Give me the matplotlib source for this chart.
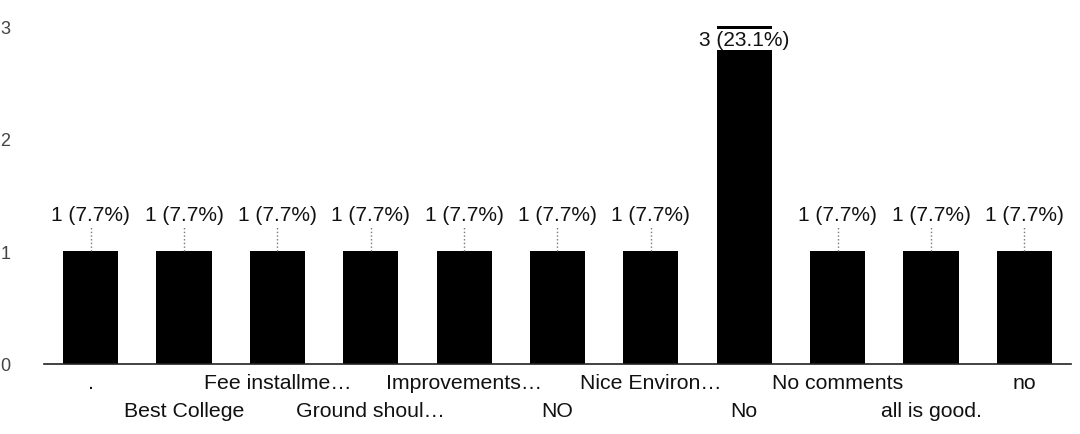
import matplotlib
matplotlib.use("Agg")
import matplotlib.pyplot as plt

categories = [".", "Best College", "Fee installme…", "Ground shoul…", "Improvements…",
              "NO", "Nice Environ…", "No", "No comments", "all is good.", "no"]
counts = [1, 1, 1, 1, 1, 1, 1, 3, 1, 1, 1]
percents = [7.7, 7.7, 7.7, 7.7, 7.7, 7.7, 7.7, 23.1, 7.7, 7.7, 7.7]
yticks = [0, 1, 2, 3]

plt.rcParams['font.family'] = ['Liberation Sans', 'DejaVu Sans']

fig = plt.figure(figsize=(10.8, 4.35), dpi=100)
ax = fig.add_axes([0.0407, 0.161, 0.951, 0.828])

x = list(range(len(categories)))
ax.bar(x, counts, width=0.59, color="black", zorder=2)

ax.set_xlim(-0.5, len(categories) - 0.5)
ax.set_ylim(0, 3.2)
ax.set_yticks(yticks)
ax.set_yticklabels([str(t) for t in yticks], fontsize=13, color="#444444")
ax.tick_params(axis='y', length=0, pad=24)
ax.tick_params(axis='x', length=0)
ax.set_xticks([])

for s in ["top", "right", "left"]:
    ax.spines[s].set_visible(False)
ax.spines["bottom"].set_color("#222222")
ax.spines["bottom"].set_linewidth(1.2)

# alternating category labels
for i, lab in enumerate(categories):
    off = -19 if i % 2 == 0 else -47
    ax.annotate(lab, xy=(i, 0), xytext=(0, off), textcoords="offset pixels",
                ha="center", va="center", fontsize=15.3, color="#111111")

# value labels
for i, (c, p) in enumerate(zip(counts, percents)):
    txt = f"{c} ({p}%)"
    if c == max(counts):
        ax.text(i, c - 0.12, txt, ha="center", va="center", fontsize=15, color="#111111",
                bbox=dict(boxstyle="square,pad=0.05", fc="white", ec="none"), zorder=4)
    else:
        ax.plot([i, i], [c, c + 0.22], color="#777777", linestyle=":", linewidth=1, zorder=3)
        ax.text(i, c + 0.33, txt, ha="center", va="center", fontsize=15, color="#111111", zorder=4)

fig.savefig("out.png", dpi=100)
